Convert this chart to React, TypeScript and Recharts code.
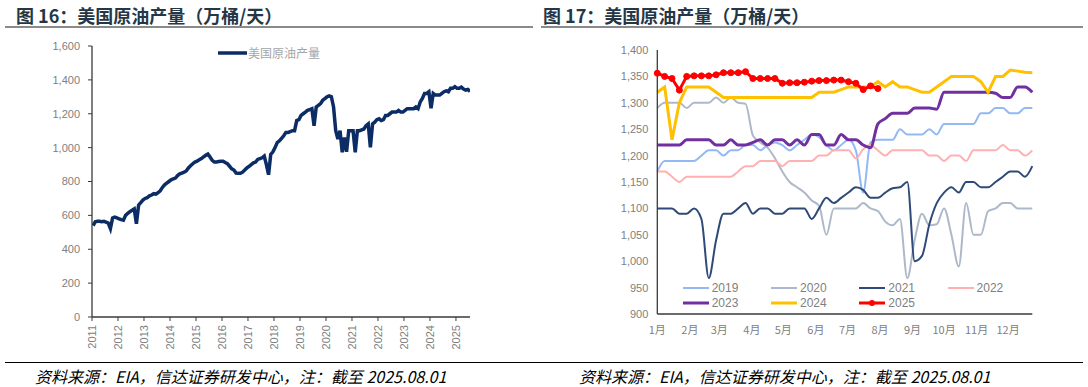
import React from "react";
import { Legend, Line, LineChart, XAxis, YAxis } from "recharts";

// 图16：美国原油产量，月度（万桶/天），2011-01 ~ 2025-07
const prod2011 = [540, 562, 565, 565, 563, 565, 560, 555, 522, 585, 590, 585];
const prod2012 = [580, 575, 572, 600, 612, 622, 630, 638, 551, 660, 675, 690];
const prod2013 = [700, 705, 715, 720, 728, 725, 735, 745, 765, 780, 790, 800];
const prod2014 = [810, 815, 820, 835, 845, 850, 855, 862, 880, 893, 905, 915];
const prod2015 = [920, 928, 935, 945, 955, 962, 945, 925, 915, 915, 918, 920];
const prod2016 = [920, 912, 905, 890, 875, 868, 850, 848, 848, 855, 868, 880];
const prod2017 = [890, 900, 910, 915, 930, 935, 940, 950, 900, 840, 960, 975];
const prod2018 = [1000, 1030, 1040, 1055, 1070, 1090, 1090, 1095, 1100, 1100, 1160, 1165];
const prod2019 = [1190, 1200, 1210, 1220, 1225, 1230, 1129, 1240, 1250, 1260, 1280, 1290];
const prod2020 = [1300, 1305, 1300, 1240, 1100, 1050, 1100, 972, 1060, 975, 1100, 1100];
const prod2021 = [1100, 972, 1100, 1100, 1105, 1110, 1130, 1140, 1002, 1140, 1150, 1165];
const prod2022 = [1170, 1160, 1165, 1190, 1190, 1200, 1210, 1210, 1210, 1220, 1210, 1210];
const prod2023 = [1220, 1230, 1230, 1230, 1230, 1240, 1230, 1270, 1290, 1320, 1320, 1330];
const prod2024 = [1233, 1320, 1310, 1310, 1310, 1320, 1330, 1335, 1330, 1350, 1350, 1360];
const prod2025 = [1350, 1350, 1357, 1346, 1340, 1343, 1332];

const prodYears = [2011, 2012, 2013, 2014, 2015, 2016, 2017, 2018, 2019, 2020, 2021, 2022, 2023, 2024, 2025];
const prodByYear = [
  prod2011, prod2012, prod2013, prod2014, prod2015, prod2016, prod2017, prod2018,
  prod2019, prod2020, prod2021, prod2022, prod2023, prod2024, prod2025,
];
const prodTicks = [0, 200, 400, 600, 800, 1000, 1200, 1400, 1600];

// 图17：分年度周度产量（万桶/天），52周
const monthLabels = ["1月", "2月", "3月", "4月", "5月", "6月", "7月", "8月", "9月", "10月", "11月", "12月"];
const monthTicks = [0, 4.43, 8.43, 12.86, 17.14, 21.57, 25.86, 30.29, 34.71, 39, 43.43, 47.71];
const weeklyTicks = [900, 950, 1000, 1050, 1100, 1150, 1200, 1250, 1300, 1350, 1400];

const y2019 = [
  1170, 1190, 1190, 1190, 1190, 1190, 1200, 1210, 1210, 1200, 1210, 1210, 1220, 1220, 1210, 1220, 1225, 1220,
  1210, 1220, 1230, 1240, 1235, 1220, 1210, 1220, 1230, 1210, 1130, 1225, 1230, 1230, 1230, 1250, 1240, 1240,
  1240, 1250, 1240, 1260, 1260, 1260, 1260, 1260, 1280, 1280, 1290, 1290, 1280, 1280, 1290, 1290,
];
const y2020 = [
  1290, 1300, 1300, 1300, 1290, 1300, 1300, 1300, 1310, 1300, 1310, 1300, 1298, 1238, 1225, 1215, 1195, 1170,
  1150, 1140, 1130, 1115, 1105, 1050, 1100, 1100, 1100, 1100, 1110, 1100, 1095, 1075, 1068, 1080, 968, 1040,
  1090, 1068, 1070, 1100, 1050, 990, 1110, 1050, 1050, 1095, 1100, 1110, 1110, 1100, 1100, 1100,
];
const y2021 = [
  1100, 1100, 1100, 1090, 1090, 1100, 1080, 968, 1040, 1090, 1090, 1100, 1110, 1090, 1100, 1100, 1090, 1090,
  1100, 1100, 1100, 1080, 1100, 1120, 1110, 1120, 1130, 1140, 1135, 1120, 1120, 1130, 1138, 1140, 1150, 1000,
  1010, 1070, 1110, 1130, 1140, 1130, 1150, 1150, 1140, 1140, 1150, 1160, 1170, 1170, 1160, 1180,
];
const y2022 = [
  1170, 1170, 1160, 1150, 1160, 1160, 1160, 1160, 1160, 1160, 1160, 1170, 1180, 1180, 1190, 1190, 1190, 1180,
  1190, 1190, 1190, 1190, 1200, 1200, 1210, 1210, 1210, 1195, 1212, 1220, 1210, 1200, 1210, 1210, 1210, 1210,
  1210, 1200, 1200, 1190, 1200, 1200, 1190, 1210, 1210, 1210, 1210, 1220, 1210, 1210, 1200, 1210,
];
const y2023 = [
  1220, 1220, 1220, 1220, 1230, 1230, 1230, 1230, 1220, 1220, 1230, 1220, 1220, 1225, 1230, 1220, 1230, 1230,
  1220, 1230, 1220, 1240, 1240, 1220, 1220, 1240, 1230, 1230, 1220, 1215, 1260, 1270, 1280, 1280, 1280, 1290,
  1290, 1290, 1288, 1320, 1320, 1320, 1320, 1320, 1320, 1320, 1318, 1310, 1310, 1330, 1330, 1320,
];
const y2024 = [
  1320, 1330, 1230, 1300, 1330, 1330, 1330, 1330, 1320, 1310, 1310, 1310, 1310, 1310, 1310, 1310, 1310, 1310,
  1310, 1310, 1310, 1310, 1320, 1320, 1320, 1325, 1330, 1330, 1330, 1330, 1340, 1330, 1340, 1330, 1330, 1325,
  1320, 1320, 1330, 1340, 1350, 1350, 1350, 1350, 1340, 1320, 1350, 1350, 1362, 1360, 1358, 1357,
];
const y2025 = [
  1356, 1350, 1346, 1324, 1350, 1351, 1351, 1351, 1353, 1357, 1357, 1357, 1359, 1346, 1346, 1346, 1346, 1337,
  1338, 1338, 1339, 1341, 1342, 1342, 1343, 1343, 1340, 1337, 1325, 1332, 1327,
];

const prodData = prodByYear.flatMap((vals, k) =>
  vals.map((v, m) => ({ t: prodYears[k] + (m + 0.5) / 12, v }))
);

const weeklyData = y2019.map((_, i) => ({
  w: i,
  y2019: y2019[i],
  y2020: y2020[i],
  y2021: y2021[i],
  y2022: y2022[i],
  y2023: y2023[i],
  y2024: y2024[i],
  y2025: y2025[i],
}));

const weeklySeries = [
  { key: "y2019", name: "2019", color: "#93b9f5", width: 2, curve: "monotone" },
  { key: "y2020", name: "2020", color: "#adb9ca", width: 2, curve: "monotone" },
  { key: "y2021", name: "2021", color: "#2e4a78", width: 2, curve: "monotone" },
  { key: "y2022", name: "2022", color: "#ffb0b0", width: 2, curve: "monotone" },
  { key: "y2023", name: "2023", color: "#7030a0", width: 3, curve: "monotone" },
  { key: "y2024", name: "2024", color: "#ffc000", width: 3, curve: "linear" },
  { key: "y2025", name: "2025", color: "#ff0000", width: 3, curve: "linear" },
] as const;

const NAVY = "#0b2c64";
const AXIS = "#3a3a3a";
const LABEL = "#808080";
const NUM_FONT = "'Liberation Sans', Arial, sans-serif";
const CJK_FONT = "'Noto Sans CJK SC', 'Noto Sans', sans-serif";

const fmt = (v: number) => v.toLocaleString("en-US");

function YearTick({ x, y, payload }: any) {
  return (
    <text
      x={x}
      y={y}
      transform={`rotate(-90, ${x}, ${y})`}
      textAnchor="end"
      dominantBaseline="central"
      fill={LABEL}
      fontSize={11}
      fontFamily={NUM_FONT}
    >
      {payload.value}
    </text>
  );
}

function ProdLegend() {
  return (
    <div style={{ display: "flex", alignItems: "center", fontFamily: CJK_FONT, fontSize: 12, color: "#a6a6a6" }}>
      <svg width={29} height={8}>
        <line x1={0} y1={4} x2={29} y2={4} stroke={NAVY} strokeWidth={3.5} />
      </svg>
      <span style={{ marginLeft: 1, lineHeight: "14px" }}>美国原油产量</span>
    </div>
  );
}

function WeeklyLegend() {
  return (
    <div
      style={{
        display: "grid",
        gridTemplateColumns: "repeat(4, 88.3px)",
        rowGap: 0,
        fontFamily: NUM_FONT,
        fontSize: 12,
        color: LABEL,
      }}
    >
      {weeklySeries.map((s) => (
        <div key={s.key} style={{ display: "flex", alignItems: "center", height: 14.5 }}>
          <svg width={26} height={10}>
            <line x1={0} y1={5} x2={26} y2={5} stroke={s.color} strokeWidth={s.width} />
            {s.key === "y2025" && <circle cx={13} cy={5} r={3} fill={s.color} />}
          </svg>
          <span style={{ marginLeft: 3 }}>{s.name}</span>
        </div>
      ))}
    </div>
  );
}

function Panel({ left, title }: { left: number; title: string }) {
  return (
    <>
      <div
        style={{
          position: "absolute",
          left: left,
          top: 2,
          fontFamily: CJK_FONT,
          fontWeight: 700,
          fontSize: 18,
          color: "#253746",
          whiteSpace: "nowrap",
        }}
      >
        {title}
      </div>
      <div
        style={{
          position: "absolute",
          left: 35 + (left > 100 ? 544 : 0),
          top: 364,
          fontFamily: CJK_FONT,
          fontStyle: "italic",
          fontSize: 16,
          color: "#000",
          whiteSpace: "nowrap",
        }}
      >
        资料来源：EIA，信达证券研发中心，注：截至 2025.08.01
      </div>
    </>
  );
}

export default function App() {
  return (
    <div style={{ position: "absolute", left: 0, top: 0, width: 1088, height: 387, background: "#fff", overflow: "hidden" }}>
      <Panel left={16} title="图 16：美国原油产量（万桶/天）" />
      <Panel left={543} title="图 17：美国原油产量（万桶/天）" />
      <div style={{ position: "absolute", left: 5, width: 528, top: 26, height: 2, background: "#8a8a8a" }} />
      <div style={{ position: "absolute", left: 541, width: 542, top: 26, height: 2, background: "#8a8a8a" }} />
      <div style={{ position: "absolute", left: 5, width: 1078, top: 362, height: 1, background: "#000" }} />

      <div style={{ position: "absolute", left: 0, top: 0 }}>
        <LineChart width={530} height={362} data={prodData} margin={{ top: 46, right: 60, bottom: 0, left: 0 }}>
          <XAxis
            dataKey="t"
            type="number"
            domain={[2011, 2025.54]}
            allowDataOverflow
            ticks={prodYears}
            interval={0}
            height={45}
            tick={<YearTick />}
            tickSize={4}
            tickMargin={4}
            axisLine={{ stroke: AXIS, strokeWidth: 1.3 }}
            tickLine={{ stroke: AXIS }}
          />
          <XAxis xAxisId="top" orientation="top" type="number" domain={[0, 1]} height={0} tick={false} tickLine={false} axisLine={{ stroke: AXIS, strokeWidth: 1.3 }} />
          <YAxis
            domain={[0, 1600]}
            ticks={prodTicks}
            interval={0}
            width={92}
            tickFormatter={fmt}
            tickSize={4}
            tickMargin={8}
            tick={{ fill: LABEL, fontSize: 11, fontFamily: NUM_FONT }}
            axisLine={{ stroke: AXIS, strokeWidth: 1.3 }}
            tickLine={{ stroke: AXIS }}
          />
          <YAxis yAxisId="right" orientation="right" domain={[0, 1]} width={0} tick={false} tickLine={false} axisLine={{ stroke: AXIS, strokeWidth: 1.3 }} />
          <Legend
            layout="horizontal"
            verticalAlign="middle"
            align="center"
            content={() => <ProdLegend />}
            wrapperStyle={{ top: 46, left: 218, width: 140, height: 14 }}
          />
          <Line dataKey="v" name="美国原油产量" type="linear" stroke={NAVY} strokeWidth={3.5} dot={false} isAnimationActive={false} />
        </LineChart>
      </div>

      <div style={{ position: "absolute", left: 544, top: 0 }}>
        <LineChart width={544} height={362} data={weeklyData} margin={{ top: 50, right: 55.7, bottom: 0, left: 0 }}>
          <XAxis
            dataKey="w"
            type="number"
            domain={[0, 51]}
            ticks={monthTicks}
            interval={0}
            tickFormatter={(_v: number, i: number) => monthLabels[i]}
            height={48}
            tickSize={0}
            tickMargin={12}
            tick={{ fill: LABEL, fontSize: 11, fontFamily: CJK_FONT }}
            axisLine={{ stroke: AXIS, strokeWidth: 1.3 }}
            tickLine={false}
          />
          <XAxis xAxisId="top" orientation="top" type="number" domain={[0, 1]} height={0} tick={false} tickLine={false} axisLine={{ stroke: AXIS, strokeWidth: 1.3 }} />
          <YAxis
            domain={[900, 1400]}
            ticks={weeklyTicks}
            interval={0}
            width={113.3}
            tickFormatter={fmt}
            tickSize={0}
            tickMargin={9}
            tick={{ fill: LABEL, fontSize: 11, fontFamily: NUM_FONT }}
            axisLine={{ stroke: AXIS, strokeWidth: 1.3 }}
            tickLine={false}
          />
          <YAxis yAxisId="right" orientation="right" domain={[0, 1]} width={0} tick={false} tickLine={false} axisLine={{ stroke: AXIS, strokeWidth: 1.3 }} />
          <Legend
            layout="horizontal"
            verticalAlign="middle"
            align="center"
            content={() => <WeeklyLegend />}
            wrapperStyle={{ top: 281, left: 138.7, width: 360, height: 29 }}
          />
          {weeklySeries.map((s) => (
            <Line
              key={s.key}
              dataKey={s.key}
              name={s.name}
              type={s.curve}
              stroke={s.color}
              strokeWidth={s.width}
              dot={s.key === "y2025" ? { r: 3, fill: s.color, stroke: s.color, strokeWidth: 1 } : false}
              connectNulls={false}
              isAnimationActive={false}
            />
          ))}
        </LineChart>
      </div>
    </div>
  );
}
